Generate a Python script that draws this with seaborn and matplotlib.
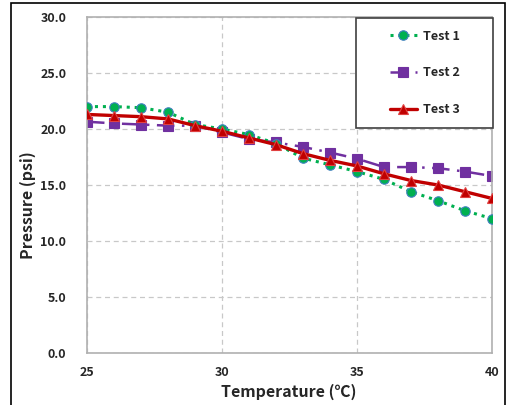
import matplotlib
matplotlib.use("Agg")
import matplotlib.pyplot as plt
import matplotlib.patches as mpatches
import seaborn as sns
import pandas as pd

temps = [25, 26, 27, 28, 29, 30, 31, 32, 33, 34, 35, 36, 37, 38, 39, 40]
test1 = [22.0, 22.0, 21.9, 21.5, 20.4, 20.0, 19.5, 18.7, 17.4, 16.8, 16.2, 15.5, 14.4, 13.6, 12.7, 12.0]
test2 = [20.65, 20.5, 20.4, 20.3, 20.3, 19.7, 19.1, 18.8, 18.4, 17.9, 17.35, 16.6, 16.6, 16.5, 16.2, 15.8]
test3 = [21.3, 21.2, 21.1, 20.9, 20.3, 19.8, 19.2, 18.6, 17.8, 17.2, 16.7, 16.0, 15.4, 15.0, 14.4, 13.8]
series_names = ["Test 1", "Test 2", "Test 3"]
x_ticks = [25, 30, 35, 40]
y_ticks = [0, 5, 10, 15, 20, 25, 30]

sns.set_style("white")
plt.rcParams['font.family'] = ['Noto Sans CJK KR', 'DejaVu Sans']

df = pd.DataFrame({
    "Temperature": temps * 3,
    "Pressure": test1 + test2 + test3,
    "Series": [series_names[0]] * len(temps) + [series_names[1]] * len(temps) + [series_names[2]] * len(temps),
})

fig = plt.figure(figsize=(5.07, 4.05), dpi=100)
ax = fig.add_axes([87 / 507, 52 / 405, 405 / 507, 336 / 405])

styles = {
    "Test 1": dict(color="#00B050", marker="o", linestyle=(0, (1, 1.6)), mec="#3F7FBF", lw=2.2, ms=6.8, zorder=3),
    "Test 2": dict(color="#7030A0", marker="s", linestyle=(0, (7, 3, 1, 3)), mec="#7030A0", lw=1.8, ms=6.5, zorder=2),
    "Test 3": dict(color="#C00000", marker="^", linestyle="-", mec="#E04040", lw=2.4, ms=7.2, zorder=4),
}
for name in series_names:
    st = styles[name]
    sns.lineplot(data=df[df["Series"] == name], x="Temperature", y="Pressure", ax=ax,
                 color=st["color"], marker=st["marker"], linestyle=st["linestyle"],
                 markeredgecolor=st["mec"], markeredgewidth=0.8, linewidth=st["lw"],
                 markersize=st["ms"], label=name, zorder=st["zorder"])

ax.set_xlim(25, 40)
ax.set_ylim(0, 30)
ax.set_xticks(x_ticks)
ax.set_yticks(y_ticks)
ax.set_xticklabels([str(t) for t in x_ticks], fontsize=9, fontweight="bold")
ax.set_yticklabels([f"{t:.1f}" for t in y_ticks], fontsize=9, fontweight="bold")
ax.tick_params(axis="both", length=0)
ax.tick_params(axis="x", pad=9)
ax.tick_params(axis="y", pad=15)
ax.grid(True, linestyle=(0, (4, 3)), color="#C8C8C8", linewidth=0.9)
for sp in ax.spines.values():
    sp.set_color("#B0B0B0")
    sp.set_linewidth(1.2)
ax.set_xlabel("Temperature (℃)", fontsize=11.5, fontweight="bold", va="center", ha="center")
ax.set_ylabel("Pressure (psi)", fontsize=11.5, fontweight="bold", va="center", ha="center")
ax.xaxis.set_label_coords((289 - 87) / 405, (353 - 392) / 336)
ax.yaxis.set_label_coords((28 - 87) / 405, (353 - 205) / 336)

leg = ax.legend(loc="center", bbox_to_anchor=((425 - 87) / 405, (353 - 73) / 336), frameon=False,
                labelspacing=1.9, borderpad=0, handlelength=2.2, handletextpad=0.5,
                prop={"weight": "bold", "size": 9})
ax.add_patch(mpatches.Rectangle(((356 - 87) / 405, (353 - 128) / 336), (493 - 356) / 405, (128 - 18) / 336,
                                transform=ax.transAxes, fill=True, facecolor="white",
                                edgecolor="#404040", linewidth=1.2, zorder=5, clip_on=False))
leg.set_zorder(6)

fig.add_artist(mpatches.Rectangle((11 / 507, -0.05), 494 / 507, (402 / 405) + 0.05,
                                  transform=fig.transFigure, fill=False, edgecolor="black",
                                  linewidth=1.2, clip_on=False))

fig.savefig("out.png", dpi=100)
